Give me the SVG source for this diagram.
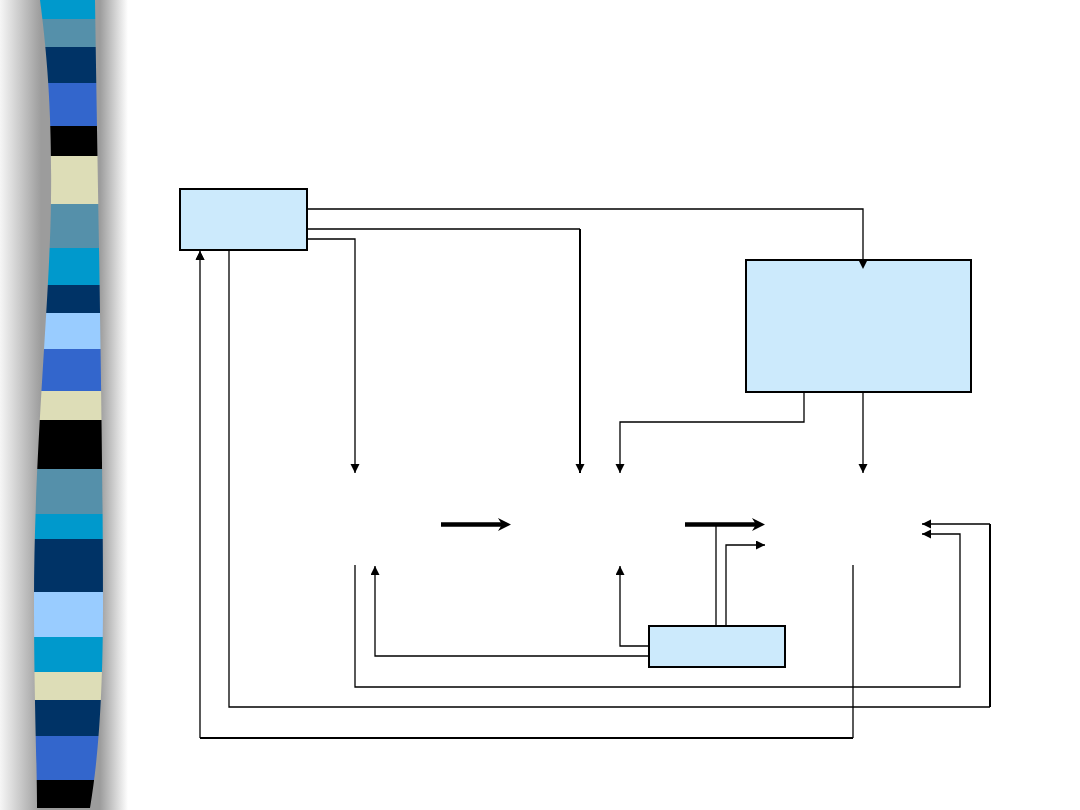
<svg xmlns="http://www.w3.org/2000/svg" width="1080" height="810" viewBox="0 0 1080 810">
<defs>
<linearGradient id="shadow" x1="0" y1="0" x2="1" y2="0">
<stop offset="0" stop-color="#f6f6f6"/>
<stop offset="0.32" stop-color="#9c9c9c"/>
<stop offset="0.78" stop-color="#9c9c9c"/>
<stop offset="1" stop-color="#ffffff"/>
</linearGradient>
<clipPath id="barclip">
<path d="M40,0 C48,60 52,120 51,200 C50,300 34,450 34,600 C34,700 37,760 37,808 L90,808 C98,760 103,700 103,600 C103,450 98,200 95,0 Z"/>
</clipPath>
<marker id="ah" markerUnits="userSpaceOnUse" markerWidth="10" markerHeight="10" refX="9" refY="4.5" orient="auto" viewBox="0 0 10 10">
<path d="M0,0 L9,4.5 L0,9 Z" fill="#000"/>
</marker>
<marker id="chev" markerUnits="userSpaceOnUse" markerWidth="14" markerHeight="14" refX="6" refY="6.5" orient="auto" viewBox="0 0 14 14">
<path d="M0,0 L13,6.5 L0,13 L4,6.5 Z" fill="#000"/>
</marker>
</defs>
<style>
.box{fill:#CCEAFC;stroke:#000;stroke-width:2}
.c{fill:none;stroke:#000;stroke-width:1.3}
.ck{fill:none;stroke:#000;stroke-width:2}
.thick{fill:none;stroke:#000;stroke-width:4.5}
</style>
<rect width="1080" height="810" fill="#fff"/>
<g id="sidebar">
<rect x="0" y="0" width="128" height="810" fill="url(#shadow)"/>
<g clip-path="url(#barclip)">
<rect x="0" y="0" width="120" height="19" fill="#0099CC"/>
<rect x="0" y="19" width="120" height="28" fill="#5590AA"/>
<rect x="0" y="47" width="120" height="36" fill="#003366"/>
<rect x="0" y="83" width="120" height="43" fill="#3366CC"/>
<rect x="0" y="126" width="120" height="30" fill="#000000"/>
<rect x="0" y="156" width="120" height="48" fill="#DDDDB7"/>
<rect x="0" y="204" width="120" height="44" fill="#5590AA"/>
<rect x="0" y="248" width="120" height="37" fill="#0099CC"/>
<rect x="0" y="285" width="120" height="28" fill="#003366"/>
<rect x="0" y="313" width="120" height="36" fill="#99CCFF"/>
<rect x="0" y="349" width="120" height="42" fill="#3366CC"/>
<rect x="0" y="391" width="120" height="29" fill="#DDDDB7"/>
<rect x="0" y="420" width="120" height="49" fill="#000000"/>
<rect x="0" y="469" width="120" height="45" fill="#5590AA"/>
<rect x="0" y="514" width="120" height="25" fill="#0099CC"/>
<rect x="0" y="539" width="120" height="53" fill="#003366"/>
<rect x="0" y="592" width="120" height="45" fill="#99CCFF"/>
<rect x="0" y="637" width="120" height="35" fill="#0099CC"/>
<rect x="0" y="672" width="120" height="28" fill="#DDDDB7"/>
<rect x="0" y="700" width="120" height="36" fill="#003366"/>
<rect x="0" y="736" width="120" height="44" fill="#3366CC"/>
<rect x="0" y="780" width="120" height="30" fill="#000000"/>
</g>
</g>
<g id="connectors">
<path class="c" d="M307,209 H863 V269" marker-end="url(#ah)"/>
<path class="c" d="M307,229 H580"/>
<path class="ck" d="M580,229 V473" marker-end="url(#ah)"/>
<path class="c" d="M307,239 H355 V473" marker-end="url(#ah)"/>
<path class="c" d="M804,392 V422 H620 V473" marker-end="url(#ah)"/>
<path class="c" d="M863,392 V473" marker-end="url(#ah)"/>
<path class="thick" d="M441,524.5 H504" marker-end="url(#chev)"/>
<path class="thick" d="M685,524.5 H758" marker-end="url(#chev)"/>
<path class="c" d="M716,626 V524"/>
<path class="c" d="M726,626 V545 H765" marker-end="url(#ah)"/>
<path class="c" d="M649,646 H620 V566" marker-end="url(#ah)"/>
<path class="c" d="M649,656 H375 V566" marker-end="url(#ah)"/>
<path class="c" d="M355,565 V687 H960 V534 H922" marker-end="url(#ah)"/>
<path class="c" d="M229,250 V707 H990"/>
<path class="ck" d="M990,707 V524"/>
<path class="c" d="M990,524 H922" marker-end="url(#ah)"/>
<path class="c" d="M853,565 V738"/>
<path class="ck" d="M853,738 H200"/>
<path class="c" d="M200,738 V251" marker-end="url(#ah)"/>
</g>
<g id="nodeA"><rect class="box" x="180" y="189" width="127" height="61"/></g>
<g id="nodeB"><rect class="box" x="746" y="260" width="225" height="132"/></g>
<g id="nodeC"><rect class="box" x="649" y="626" width="136" height="41"/></g>
<g id="arrowheads-over">
<path d="M858.5,260 L867.5,260 L863,269 Z" fill="#000"/>
<path d="M195.5,260 L204.5,260 L200,251 Z" fill="#000"/>
</g>
</svg>
